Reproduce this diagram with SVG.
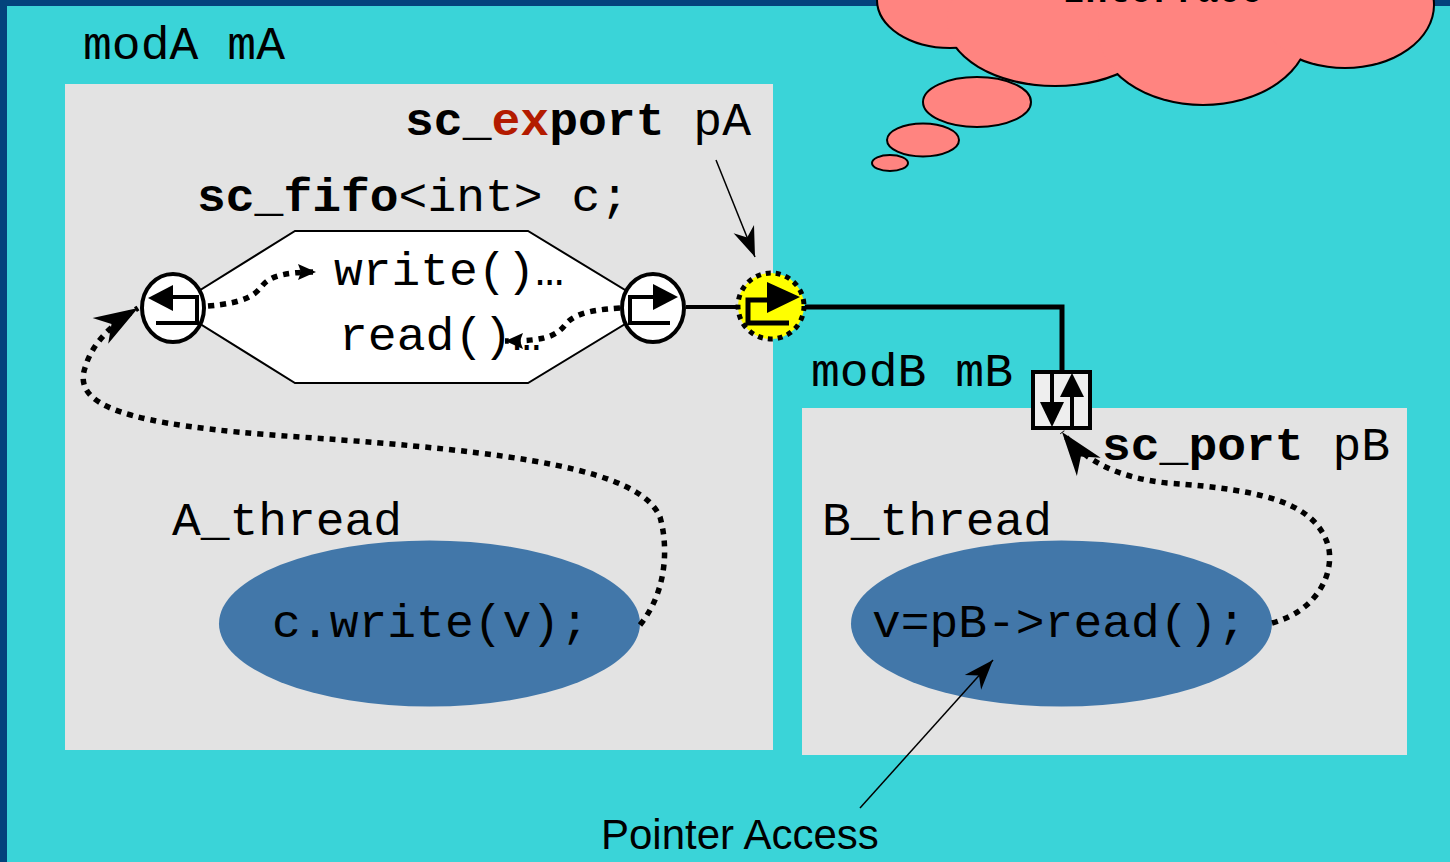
<svg xmlns="http://www.w3.org/2000/svg" width="1450" height="862" viewBox="0 0 1450 862">
<style>
.mono{font-family:"Liberation Mono","Courier New",monospace;font-size:46px;fill:#000}
.b{font-weight:bold}
.red{fill:#B31B00}
.sans{font-family:"Liberation Sans",Arial,sans-serif;font-size:42px;fill:#000}
.mod{fill:#E3E3E3}
.thread{fill:#4277A9}
.dot{fill:none;stroke:#000;stroke-width:5.5;stroke-dasharray:6 6}
.thin{fill:none;stroke:#000;stroke-width:1.5}
.port{fill:#fff;stroke:#000;stroke-width:4}
.glyph{fill:none;stroke:#000;stroke-width:4}
.cloud{fill:#FF8480;stroke:#000;stroke-width:4}
.cloudfill{fill:#FF8480}
</style>
<defs>
<marker id="bigHead" markerUnits="userSpaceOnUse" markerWidth="50" markerHeight="34" viewBox="-46 -17 48 34" refX="0" refY="0" orient="auto"><path d="M0,0 L-44,-15 L-31,0 L-44,15 z" fill="#000"/></marker>
<marker id="smallHead" markerUnits="userSpaceOnUse" markerWidth="22" markerHeight="20" viewBox="-20 -10 22 20" refX="0" refY="0" orient="auto"><path d="M0,0 L-18,-8 L-15,0 L-18,8 z" fill="#000"/></marker>
<marker id="thinHead" markerUnits="userSpaceOnUse" markerWidth="34" markerHeight="26" viewBox="-32 -13 34 26" refX="0" refY="0" orient="auto"><path d="M0,0 L-30,-11 L-21,0 L-30,11 z" fill="#000"/></marker>
</defs>
<rect x="0" y="0" width="1450" height="862" fill="#3AD4D8"/>
<rect x="0" y="0" width="1450" height="6" fill="#03437C"/>
<rect x="0" y="0" width="7" height="862" fill="#03437C"/>

<g id="cloud">
<ellipse class="cloud" cx="950" cy="0" rx="72" ry="47"/>
<ellipse class="cloud" cx="1055" cy="20" rx="108" ry="65"/>
<ellipse class="cloud" cx="1203" cy="30" rx="105" ry="74"/>
<ellipse class="cloud" cx="1345" cy="5" rx="88" ry="62"/>
<ellipse class="cloudfill" cx="950" cy="0" rx="72" ry="47"/>
<ellipse class="cloudfill" cx="1055" cy="20" rx="108" ry="65"/>
<ellipse class="cloudfill" cx="1203" cy="30" rx="105" ry="74"/>
<ellipse class="cloudfill" cx="1345" cy="5" rx="88" ry="62"/>
<text class="mono b" x="1063" y="2" textLength="200" lengthAdjust="spacingAndGlyphs">Interface</text>
<ellipse class="cloud" style="stroke-width:2" cx="977" cy="102" rx="54" ry="25"/>
<ellipse class="cloud" style="stroke-width:2" cx="923" cy="140" rx="36" ry="16.5"/>
<ellipse class="cloud" style="stroke-width:2" cx="890" cy="163" rx="18" ry="8"/>
</g>

<g id="modA">
<rect class="mod" x="65" y="84" width="708" height="666"/>
<text class="mono" x="83" y="59" textLength="202" lengthAdjust="spacingAndGlyphs">modA mA</text>
</g>

<g id="modB">
<rect class="mod" x="802" y="408" width="605" height="347"/>
<text class="mono" x="811" y="386" textLength="202" lengthAdjust="spacingAndGlyphs">modB mB</text>
</g>

<g id="fifo">
<polygon points="173,307 295,231 528,231 653,307 528,383 295,383" fill="#fff" stroke="#000" stroke-width="2"/>
<text class="mono" x="197" y="211" textLength="432" lengthAdjust="spacingAndGlyphs"><tspan class="b">sc_fifo</tspan>&lt;int&gt; c;</text>
<text class="mono" x="334" y="285" textLength="230" lengthAdjust="spacingAndGlyphs">write()…</text>
<text class="mono" x="339" y="350" textLength="202" lengthAdjust="spacingAndGlyphs">read()…</text>
</g>

<g id="threadA">
<text class="mono" x="172" y="535" textLength="230" lengthAdjust="spacingAndGlyphs">A_thread</text>
<ellipse class="thread" cx="429.5" cy="623.5" rx="210.5" ry="83"/>
<text class="mono" x="272" y="637" textLength="317" lengthAdjust="spacingAndGlyphs">c.write(v);</text>
</g>

<g id="threadB">
<text class="mono" x="822" y="535" textLength="230" lengthAdjust="spacingAndGlyphs">B_thread</text>
<ellipse class="thread" cx="1061.5" cy="623.5" rx="210.5" ry="83"/>
<text class="mono" x="872" y="637" textLength="374" lengthAdjust="spacingAndGlyphs">v=pB-&gt;read();</text>
</g>

<g id="labelExport">
<text class="mono" x="405" y="135" textLength="346" lengthAdjust="spacingAndGlyphs"><tspan class="b">sc_</tspan><tspan class="b red">ex</tspan><tspan class="b">port</tspan> pA</text>
</g>

<g id="labelPort">
<text class="mono" x="1102" y="460" textLength="288" lengthAdjust="spacingAndGlyphs"><tspan class="b">sc_port</tspan> pB</text>
</g>

<g id="labelPointer">
<text class="sans" x="601" y="849">Pointer Access</text>
</g>

<g id="connectors">
<line x1="686" y1="307" x2="737" y2="307" stroke="#000" stroke-width="4"/>
<polyline points="805,307 1062,307 1062,371" fill="none" stroke="#000" stroke-width="5"/>
<path class="dot" d="M640,625 C668,590 668,545 660,517 C640,470 520,452 300,437 C120,425 70,405 86,365 C92,345 110,325 138,308" marker-end="url(#bigHead)"/>
<path class="dot" d="M1272,623 C1320,610 1335,570 1328,545 C1315,505 1270,490 1167,483 C1120,478 1085,462 1062,432" marker-end="url(#bigHead)"/>
<path class="dot" d="M208,306 C245,303 255,295 262,286 C270,276 285,272 316,272" marker-end="url(#smallHead)"/>
<path class="dot" d="M620,308 C585,310 572,316 565,325 C555,338 540,341 505,341" marker-end="url(#smallHead)"/>
<line class="thin" x1="716" y1="160" x2="755" y2="257" marker-end="url(#thinHead)"/>
<line class="thin" x1="860" y1="808" x2="993" y2="660" marker-end="url(#thinHead)"/>
</g>

<g id="portLeft">
<ellipse class="port" cx="173" cy="308" rx="31" ry="34"/>
<polygon points="148,298 173,285 173,311" fill="#000"/>
<polyline class="glyph" points="170,297 197,297 197,323 156,323"/>
</g>

<g id="portRight">
<ellipse class="port" cx="653" cy="308" rx="31" ry="34"/>
<polygon points="678,297 653,284 653,310" fill="#000"/>
<polyline class="glyph" points="656,297 630,297 630,323 670,323"/>
</g>

<g id="exportPA">
<circle cx="771" cy="306" r="33" fill="#FFFF00" stroke="#000" stroke-width="5" stroke-dasharray="5 5"/>
<polygon points="800,297 767,282 767,313" fill="#000"/>
<polyline class="glyph" style="stroke-width:5" points="770,300 748,300 748,323 789,323"/>
</g>

<g id="portPB">
<rect x="1033" y="372" width="57" height="56" fill="#EEEEEE" stroke="#000" stroke-width="4"/>
<line x1="1052" y1="374" x2="1052" y2="405" stroke="#000" stroke-width="4"/>
<polygon points="1040,402 1064,402 1052,427" fill="#000"/>
<line x1="1072" y1="394" x2="1072" y2="426" stroke="#000" stroke-width="4"/>
<polygon points="1060,397 1084,397 1072,373" fill="#000"/>
</g>
</svg>
